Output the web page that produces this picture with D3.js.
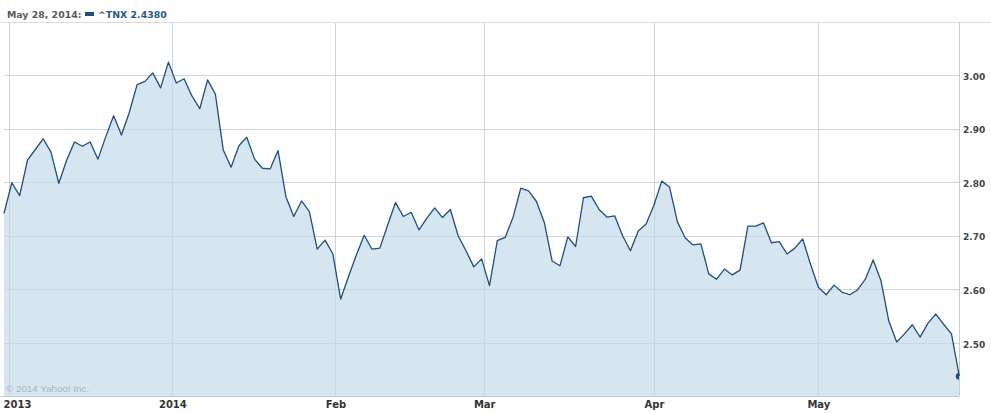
<!DOCTYPE html>
<html>
<head>
<meta charset="utf-8">
<script src="https://cdn.jsdelivr.net/npm/d3@7"></script>
<style>
  html, body { margin: 0; padding: 0; background: #fff; }
  svg { display: block; font-family: "DejaVu Sans", Verdana, sans-serif; }
  .grid line { stroke: #cad6df; stroke-width: 1; shape-rendering: crispEdges; }
  .grid path { display: none; }
  .x.axis path, .y.axis path { display: none; }
  .x.axis line, .y.axis line { display: none; }
  .x.axis text { font-family: "DejaVu Sans", Verdana, sans-serif; font-size: 10px; font-weight: bold; fill: #333; }
  .y.axis text { font-family: "DejaVu Sans", Verdana, sans-serif; font-size: 9px; font-weight: bold; fill: #444; }
</style>
</head>
<body>
<svg id="chart" width="991" height="413"></svg>
<script>
// ^TNX daily closes, Nov 29 2013 .. May 28 2014 (one per trading day)
var values = [
  2.742, 2.799, 2.775, 2.841, 2.861, 2.881, 2.856, 2.798, 2.841, 2.875,
  2.867, 2.875, 2.843, 2.885, 2.924, 2.888, 2.930, 2.982, 2.988, 3.004,
  2.976, 3.024, 2.985, 2.993, 2.961, 2.937, 2.991, 2.964, 2.860, 2.828,
  2.868, 2.884, 2.843, 2.826, 2.825, 2.859, 2.773, 2.736, 2.765, 2.745,
  2.675, 2.692, 2.666, 2.582, 2.624, 2.664, 2.701, 2.675, 2.677, 2.720,
  2.762, 2.736, 2.744, 2.711, 2.733, 2.752, 2.734, 2.749, 2.700, 2.672,
  2.642, 2.657, 2.607, 2.691, 2.697, 2.734, 2.789, 2.784, 2.764, 2.725,
  2.653, 2.644, 2.698, 2.680, 2.771, 2.774, 2.749, 2.735, 2.737, 2.700,
  2.672, 2.709, 2.722, 2.757, 2.802, 2.791, 2.726, 2.696, 2.683, 2.685,
  2.629, 2.619, 2.638, 2.627, 2.636, 2.718, 2.718, 2.724, 2.687, 2.689,
  2.666, 2.677, 2.694, 2.647, 2.604, 2.590, 2.608, 2.595, 2.590, 2.599,
  2.619, 2.655, 2.616, 2.541, 2.502, 2.517, 2.534, 2.511, 2.537, 2.554,
  2.535, 2.517, 2.438
];

// month boundaries, as a (fractional) trading-day index
var tickLabels = ["2013", "2014", "Feb", "Mar", "Apr", "May"];
var tickIndex = [0.67, 21.5, 42.33, 61.33, 83, 104];
var yTicks = [2.5, 2.6, 2.7, 2.8, 2.9, 3.0];

var legendDate = "May 28, 2014:";
var legendName = "^TNX";
var legendValue = "2.4380";
var copyright = "\u00a9 2014 Yahoo! Inc.";

var svg = d3.select("#chart");
var W = 991, H = 413;
var plotLeft = 4, plotRight = 959.3, plotTop = 22, plotBottom = 396;
var edgeX = Math.round(plotRight);

var x = d3.scaleLinear()
	.domain([0, values.length - 1])
	.range([plotLeft, plotRight]);

var y = d3.scaleLinear()
	.domain([2.4, 3.1])
	.range([plotBottom + 0.6, plotTop - 0.6]);

// header separator
svg.append("line")
	.attr("x1", 0).attr("x2", W)
	.attr("y1", plotTop + 0.5).attr("y2", plotTop + 0.5)
	.attr("stroke", "#d8dde2")
	.attr("shape-rendering", "crispEdges");

// area + line
var area = d3.area()
	.x(function(d, i) { return x(i); })
	.y0(plotBottom)
	.y1(function(d) { return y(d); });

var line = d3.line()
	.x(function(d, i) { return x(i); })
	.y(function(d) { return y(d); });

svg.append("path")
	.datum(values)
	.attr("fill", "#d6e6f1")
	.attr("d", area);

// gridlines
svg.append("g")
	.attr("class", "grid")
	.attr("transform", "translate(0," + plotBottom + ")")
	.call(d3.axisBottom(x)
		.tickValues(tickIndex)
		.tickSize(-(plotBottom - plotTop))
		.tickFormat(""));

svg.append("g")
	.attr("class", "grid")
	.attr("transform", "translate(" + plotLeft + ",0)")
	.call(d3.axisRight(y)
		.tickValues(yTicks)
		.tickSize(edgeX - plotLeft)
		.tickFormat(""));

// frame: right edge + bottom edge
svg.append("line")
	.attr("x1", edgeX + 0.5).attr("x2", edgeX + 0.5)
	.attr("y1", plotTop).attr("y2", plotBottom)
	.attr("stroke", "#c3ced6");
svg.append("line")
	.attr("x1", 0).attr("x2", edgeX)
	.attr("y1", plotBottom + 0.5).attr("y2", plotBottom + 0.5)
	.attr("stroke", "#c3ced6");

svg.append("path")
	.datum(values)
	.attr("fill", "none")
	.attr("stroke", "#1f4e7c")
	.attr("stroke-width", 1.3)
	.attr("stroke-linejoin", "round")
	.attr("d", line);

// end marker, clipped at the plot edge
svg.append("clipPath").attr("id", "plotclip")
	.append("rect")
	.attr("x", 0).attr("y", 0)
	.attr("width", edgeX).attr("height", H);
svg.append("circle")
	.attr("clip-path", "url(#plotclip)")
	.attr("cx", x(values.length - 1))
	.attr("cy", y(values[values.length - 1]))
	.attr("r", 3.5)
	.attr("fill", "#1f4e7c");

// x axis labels
var xAxis = svg.append("g")
	.attr("class", "x axis")
	.attr("transform", "translate(0," + plotBottom + ")")
	.call(d3.axisBottom(x)
		.tickValues(tickIndex)
		.tickSize(0)
		.tickPadding(0)
		.tickFormat(function(d, i) { return tickLabels[i]; }));
xAxis.attr("font-family", null).attr("font-size", null);
xAxis.selectAll("text").attr("dy", null).attr("y", 12);
// first label is pushed in so it doesn't fall off the left edge
xAxis.selectAll(".tick").filter(function(d, i) { return i === 0; })
	.select("text")
	.attr("text-anchor", "start")
	.attr("x", 3 - x(tickIndex[0]));

// y axis labels on the right
var yAxis = svg.append("g")
	.attr("class", "y axis")
	.attr("transform", "translate(" + edgeX + ",0)")
	.call(d3.axisRight(y)
		.tickValues(yTicks)
		.tickSize(0)
		.tickPadding(4)
		.tickFormat(d3.format(".2f")));
yAxis.attr("font-family", null).attr("font-size", null);
yAxis.selectAll("text").attr("dy", "0.45em");

// copyright
svg.append("text")
	.attr("x", 6).attr("y", plotBottom - 4.5)
	.attr("font-family", "'Liberation Sans', Arial, sans-serif")
	.attr("font-size", 9.8)
	.attr("fill", "#a9b3bc")
	.text(copyright);

// legend
svg.append("text")
	.attr("x", 7).attr("y", 17.5)
	.attr("font-size", 9.4)
	.attr("font-weight", "bold")
	.attr("fill", "#5a5a5a")
	.text(legendDate);
svg.append("rect")
	.attr("x", 85).attr("y", 12)
	.attr("width", 9).attr("height", 4)
	.attr("fill", "#1f4e7c");
svg.append("text")
	.attr("x", 98).attr("y", 17.5)
	.attr("font-size", 9.4)
	.attr("font-weight", "bold")
	.attr("fill", "#2a5a8a")
	.text(legendName + " " + legendValue);
</script>
</body>
</html>
